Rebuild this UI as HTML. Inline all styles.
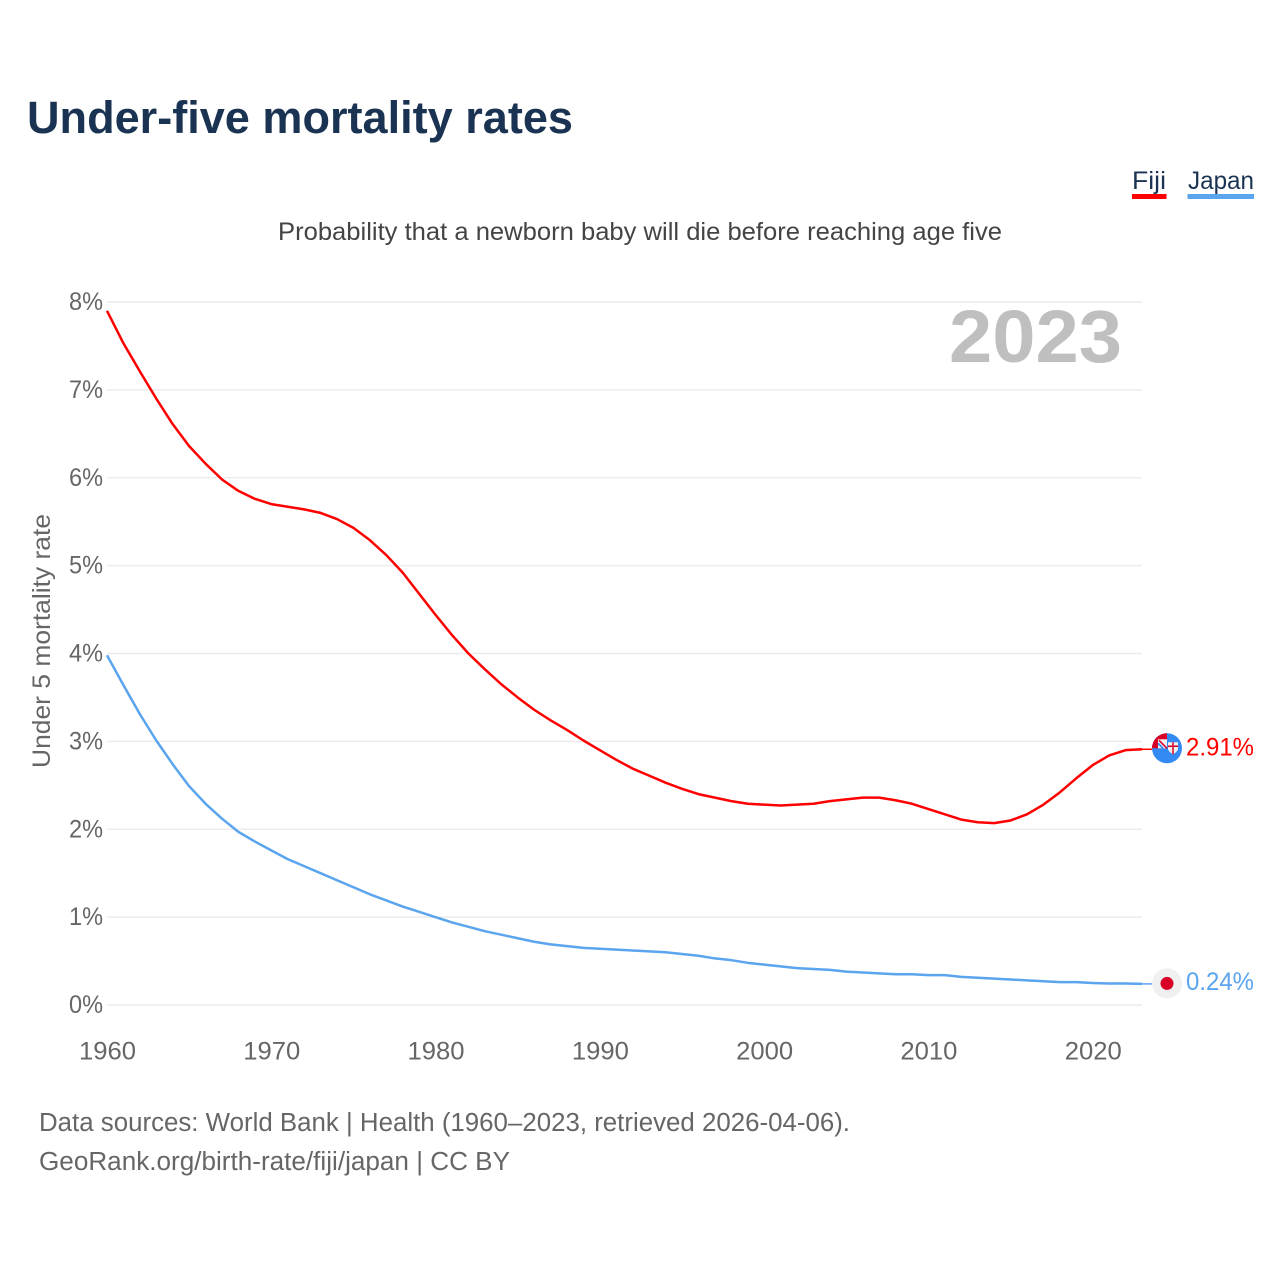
<!DOCTYPE html>
<html lang="en">
<head>
<meta charset="utf-8">
<title>Under-five mortality rates</title>
<style>
html,body{margin:0;padding:0;background:#fff;}
svg{display:block;font-family:"Liberation Sans",sans-serif;}
</style>
</head>
<body>
<svg id="chart" width="1280" height="1280" viewBox="0 0 1280 1280" xmlns="http://www.w3.org/2000/svg">
<rect width="1280" height="1280" fill="#fff"/>
<text x="27" y="133" font-size="45" font-weight="700" fill="#1a3352" textLength="546" lengthAdjust="spacingAndGlyphs">Under-five mortality rates</text>
<text x="1132" y="189" font-size="25" fill="#1a3352" textLength="34" lengthAdjust="spacingAndGlyphs">Fiji</text>
<rect x="1132" y="194" width="34.500" height="5" fill="#ff0000"/>
<text x="1188" y="189" font-size="25" fill="#1a3352" textLength="66" lengthAdjust="spacingAndGlyphs">Japan</text>
<rect x="1187.500" y="194" width="66.500" height="5" fill="#5ba4ee"/>
<text x="278" y="240" font-size="25" fill="#444" textLength="724" lengthAdjust="spacingAndGlyphs">Probability that a newborn baby will die before reaching age five</text>
<text x="949" y="362" font-size="74" font-weight="700" fill="#bfbfbf" textLength="173" lengthAdjust="spacingAndGlyphs">2023</text>
<text transform="translate(50,641) rotate(-90)" text-anchor="middle" font-size="25" fill="#666" textLength="254" lengthAdjust="spacingAndGlyphs">Under 5 mortality rate</text>
<g id="grid"></g>
<g id="yticks"></g>
<g id="xticks"></g>
<g id="series"></g>
<g id="flags"></g>
<text x="39" y="1131" font-size="25.500" fill="#666" textLength="811" lengthAdjust="spacingAndGlyphs">Data sources: World Bank | Health (1960–2023, retrieved 2026-04-06).</text>
<text x="39" y="1170" font-size="25.500" fill="#666" textLength="471" lengthAdjust="spacingAndGlyphs">GeoRank.org/birth-rate/fiji/japan | CC BY</text>
</svg>
<script>
const startYear = 1960;
const endYear = 2023;
const yTicks = [0, 1, 2, 3, 4, 5, 6, 7, 8];
const xTicks = [1960, 1970, 1980, 1990, 2000, 2010, 2020];
const fijiValues = [7.90,7.53,7.21,6.90,6.61,6.36,6.16,5.98,5.85,5.76,5.70,5.67,5.64,5.60,5.53,5.43,5.29,5.12,4.92,4.68,4.44,4.21,4.00,3.82,3.65,3.50,3.36,3.24,3.13,3.01,2.90,2.79,2.69,2.61,2.53,2.46,2.40,2.36,2.32,2.29,2.28,2.27,2.28,2.29,2.32,2.34,2.36,2.36,2.33,2.29,2.23,2.17,2.11,2.08,2.07,2.10,2.17,2.28,2.42,2.58,2.73,2.84,2.90,2.91];
const japanValues = [3.98,3.64,3.31,3.01,2.74,2.49,2.29,2.12,1.97,1.86,1.76,1.66,1.58,1.50,1.42,1.34,1.26,1.19,1.12,1.06,1.00,0.94,0.89,0.84,0.80,0.76,0.72,0.69,0.67,0.65,0.64,0.63,0.62,0.61,0.60,0.58,0.56,0.53,0.51,0.48,0.46,0.44,0.42,0.41,0.40,0.38,0.37,0.36,0.35,0.35,0.34,0.34,0.32,0.31,0.30,0.29,0.28,0.27,0.26,0.26,0.25,0.245,0.245,0.24];
const fijiColor = '#ff0000';
const japanColor = '#5ba4ee';

const NS = 'http://www.w3.org/2000/svg';
const xScale = function (year) { return 107 + (year - startYear) * (1142 - 107) / (endYear - startYear); };
const yScale = function (v) { return 1005 - v * (1005 - 302) / 8; };
function make(tag, parent, attrs) {
  const el = document.createElementNS(NS, tag);
  Object.keys(attrs).forEach(function (k) { el.setAttribute(k, attrs[k]); });
  parent.appendChild(el);
  return el;
}
const grid = document.getElementById('grid');
const yG = document.getElementById('yticks');
const xG = document.getElementById('xticks');
const seriesG = document.getElementById('series');
const flags = document.getElementById('flags');

yTicks.forEach(function (t) {
  const line = make('line', grid, {x1: 107, x2: 1142, y1: yScale(t), y2: yScale(t), stroke: '#ececec', 'stroke-width': 1.5});
  
  
  const lab = make('text', yG, {x: 69, y: yScale(t) + 8, 'font-size': 25, fill: '#666', textLength: 34, lengthAdjust: 'spacingAndGlyphs'});
  lab.textContent = t + '%';
  
  
});
xTicks.forEach(function (t) {
  const lab = make('text', xG, {x: xScale(t) + 0.5, y: 1059.5, 'font-size': 25, fill: '#666', 'text-anchor': 'middle', textLength: 57, lengthAdjust: 'spacingAndGlyphs'});
  lab.textContent = t;
  
  
});
function drawSeries(values, color, name) {
  const pts = values.map(function (v, i) { return xScale(startYear + i).toFixed(2) + ',' + yScale(v).toFixed(2); });
  const last = values[values.length - 1];
  const path = make('polyline', seriesG, {points: pts.join(' '), fill: 'none', stroke: color, 'stroke-width': 2.5, 'stroke-linejoin': 'round'});
  
  
  const conn = make('line', seriesG, {x1: xScale(endYear), x2: 1152, y1: yScale(last), y2: yScale(last), stroke: color, 'stroke-width': 1.5});
  
  
  const lab = make('text', flags, {x: 1186, y: yScale(last) + 6, 'font-size': 25, fill: color, textLength: 68, lengthAdjust: 'spacingAndGlyphs'});
  lab.textContent = last.toFixed(2) + '%';
  
  
}
drawSeries(fijiValues, fijiColor, 'fiji');
drawSeries(japanValues, japanColor, 'japan');

/* Fiji flag marker */
const fy = yScale(fijiValues[fijiValues.length - 1]) - 1;
const fijiFlag = make('g', flags, {transform: 'translate(1167,' + fy + ')'});


make('circle', fijiFlag, {cx: 0, cy: 0, r: 15, fill: '#338af3'});
make('path', fijiFlag, {d: 'M-15,0 A15,15 0 0 1 0,-15 V0 Z', fill: '#d80027'});
make('rect', fijiFlag, {x: -9, y: -9, width: 9, height: 9, fill: '#f0f0f0'});
make('path', fijiFlag, {d: 'M-8,-8 L0,0', stroke: '#d80027', 'stroke-width': 1.5});
make('path', fijiFlag, {d: 'M-9,-5 L-4,0', stroke: '#338af3', 'stroke-width': 1.8});
make('path', fijiFlag, {d: 'M1,-6 H11 V1 Q10,4 6,6 Q2,4 1,1 Z', fill: '#f0f0f0'});
make('path', fijiFlag, {d: 'M1,-2 H11 M6,-6 V6', stroke: '#d80027', 'stroke-width': 1.5});

/* Japan flag marker */
const jy = yScale(japanValues[japanValues.length - 1]) - 0.5;
const japanFlag = make('g', flags, {transform: 'translate(1167,' + jy + ')'});


make('circle', japanFlag, {cx: 0, cy: 0, r: 15, fill: '#f0f0f0'});
make('circle', japanFlag, {cx: 0, cy: 0, r: 6.500, fill: '#d80027'});
</script>
</body>
</html>
